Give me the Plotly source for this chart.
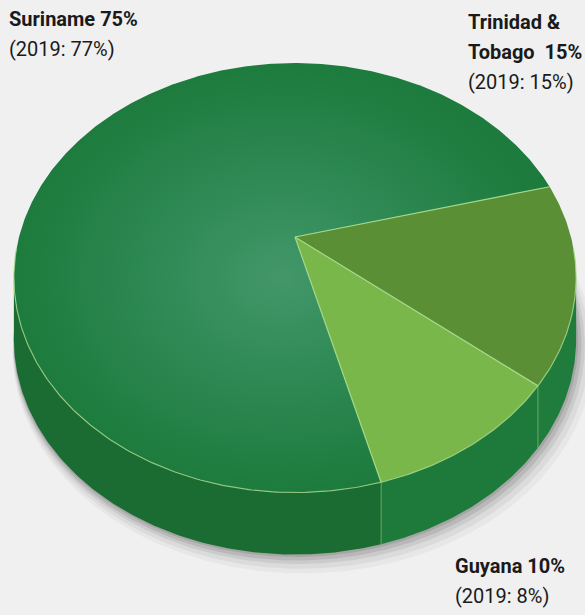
import numpy as np
import plotly.graph_objects as go

# ---- data ----
countries = ["Trinidad & Tobago", "Guyana", "Suriname"]
label_lines = [["Trinidad &", "Tobago  15%"], ["Guyana 10%"], ["Suriname 75%"]]
share_2020 = [15, 10, 75]
share_2019 = [15, 8, 77]

top_colors = ["#5b8f35", "#79b74b", None]          # Suriname uses a gradient
side_colors = ["#1f7c3c", "#1e7a3b", "#1a6c33"]
seam_color = "#a6d98a"
bg = "#f0f0f0"

# ---- geometry (projection of a tilted disc) ----
W, H = 585, 615
CX, CY = 295, 237          # pie centre on screen
S = 276                    # horizontal radius scale
CS = 207                   # vertical radius scale
K = 0.19                   # perspective strength
D = 62                     # thickness of the disc
START = 14.75              # angle (deg) where the first slice starts, going clockwise


def proj(theta_deg, z=0.0, dx=0.0, scale=1.0):
    t = np.radians(theta_deg)
    u, v = scale * np.cos(t), scale * np.sin(t)
    den = 1 + K * v
    return CX + u * S / den + dx, CY - v * CS / den + z


def arc(a, b, z=0.0, dx=0.0, scale=1.0):
    n = max(int(abs(b - a) / 0.5), 2)
    th = np.linspace(a, b, n)
    return proj(th, z, dx, scale)


total = sum(share_2020)
bounds = [START]
for val in share_2020:
    bounds.append(bounds[-1] - 360.0 * val / total)

vis_lo = -180 + np.degrees(np.arcsin(K))
vis_hi = -np.degrees(np.arcsin(K))

fig = go.Figure()

# soft shadow below/right of the disc
for off, op in [(16, 0.035), (12, 0.05), (8, 0.07), (5, 0.09), (2, 0.1)]:
    x, y = arc(0, 360, z=D + off * 0.55, dx=off * 0.5, scale=1.0 + off * 0.002)
    fig.add_trace(go.Scatter(x=x, y=y, fill="toself", mode="lines",
                             line=dict(width=0), fillcolor=f"rgba(0,0,0,{op})",
                             hoverinfo="skip", showlegend=False))

# side walls
for i in range(len(share_2020)):
    a, b = bounds[i], bounds[i + 1]          # a > b (clockwise)
    hi, lo = min(a, vis_hi), max(b, vis_lo)
    if hi <= lo:
        continue
    xt, yt = arc(hi, lo)
    xb, yb = arc(lo, hi, z=D)
    fig.add_trace(go.Scatter(x=np.concatenate([xt, xb]), y=np.concatenate([yt, yb]),
                             fill="toself", mode="lines", line=dict(width=0),
                             fillcolor=side_colors[i], hoverinfo="skip", showlegend=False))

# seams on the side wall
for bnd in bounds[1:-1]:
    if vis_lo < bnd < vis_hi:
        x0, y0 = proj(bnd)
        x1, y1 = proj(bnd, z=D)
        fig.add_trace(go.Scatter(x=[x0, x1], y=[y0, y1], mode="lines",
                                 line=dict(color=seam_color, width=1),
                                 opacity=0.5, hoverinfo="skip", showlegend=False))

# top faces
for i in range(len(share_2020)):
    a, b = bounds[i], bounds[i + 1]
    xa, ya = arc(a, b)
    x = np.concatenate([[CX], xa, [CX]])
    y = np.concatenate([[CY], ya, [CY]])
    kw = dict(x=x, y=y, fill="toself", mode="lines", line=dict(width=0),
              hoverinfo="skip", showlegend=False, name=countries[i])
    if top_colors[i] is None:
        kw["fillgradient"] = dict(type="radial",
                                  colorscale=[[0, "#43976a"], [0.45, "#2f8a55"],
                                              [1, "#1d7b3d"]])
    else:
        kw["fillcolor"] = top_colors[i]
    fig.add_trace(go.Scatter(**kw))

# light seams on the top: slice borders and the front rim
for bnd in bounds[:-1]:
    x1, y1 = proj(bnd)
    fig.add_trace(go.Scatter(x=[CX, x1], y=[CY, y1], mode="lines",
                             line=dict(color=seam_color, width=1.2),
                             hoverinfo="skip", showlegend=False))
xr, yr = arc(vis_hi + 8, vis_lo - 8)
fig.add_trace(go.Scatter(x=xr, y=yr, mode="lines",
                         line=dict(color=seam_color, width=1.2),
                         opacity=0.8, hoverinfo="skip", showlegend=False))

# ---- labels (one annotation per text line) ----
FONT = "Roboto, Liberation Sans Narrow, sans-serif"
FS = 20
LINE = 30
label_pos = {"Suriname": (7, 10), "Trinidad & Tobago": (466, 13), "Guyana": (453, 557)}
for i, c in enumerate(countries):
    lx, cap_top = label_pos[c]
    lines = [f"<b>{t}</b>" for t in label_lines[i]] + [f"(2019: {share_2019[i]}%)"]
    for j, t in enumerate(lines):
        fig.add_annotation(
            x=lx, y=cap_top - 5.5 + j * LINE, xref="x", yref="y",
            xanchor="left", yanchor="top", align="left", showarrow=False,
            text=t, font=dict(family=FONT, size=FS, color="#1a1a1a"))

fig.update_layout(
    width=W, height=H, margin=dict(l=0, r=0, t=0, b=0),
    paper_bgcolor=bg, plot_bgcolor=bg,
    xaxis=dict(range=[0, W], visible=False, fixedrange=True),
    yaxis=dict(range=[H, 0], visible=False, fixedrange=True),
)

fig.write_html("out.html", config={"displayModeBar": False},
               post_script="document.body.style.margin='0';"
                           "document.body.style.background='%s';" % bg)
